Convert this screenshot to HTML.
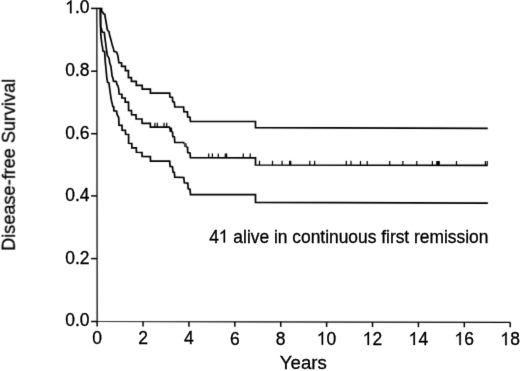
<!DOCTYPE html>
<html><head><meta charset="utf-8"><style>
html,body{margin:0;padding:0;background:#fff;}
body{width:520px;height:371px;overflow:hidden;}
svg{display:block;}
text{font-family:"Liberation Sans",sans-serif;fill:#000;}
</style></head><body>
<svg width="520" height="371" viewBox="0 0 520 371">
<defs><filter id="t" filterUnits="userSpaceOnUse" x="0" y="0" width="520" height="371"><feConvolveMatrix order="3" kernelMatrix="0 1 0 1 12 1 0 1 0" edgeMode="none" preserveAlpha="false"/></filter><filter id="b" filterUnits="userSpaceOnUse" x="0" y="0" width="520" height="371"><feConvolveMatrix order="3" kernelMatrix="0 1 0 1 6 1 0 1 0" edgeMode="none" preserveAlpha="false"/></filter></defs>
<rect width="520" height="371" fill="#fff"/>
<g filter="url(#b)">
<path d="M96.85,8.4 L97.15,321.5 L510.2,322.35" fill="none" stroke="#000" stroke-width="1.25" stroke-linejoin="miter"/>
<line x1="91.1" x2="97" y1="321.50" y2="321.50" stroke="#000" stroke-width="1.5"/>
<line x1="91.1" x2="97" y1="258.60" y2="258.60" stroke="#000" stroke-width="1.5"/>
<line x1="91.1" x2="97" y1="195.90" y2="195.90" stroke="#000" stroke-width="1.5"/>
<line x1="91.1" x2="97" y1="133.70" y2="133.70" stroke="#000" stroke-width="1.5"/>
<line x1="91.1" x2="97" y1="71.20" y2="71.20" stroke="#000" stroke-width="1.5"/>
<line x1="91.1" x2="97" y1="8.40" y2="8.40" stroke="#000" stroke-width="1.5"/>
<line x1="97.15" x2="97.15" y1="321.50" y2="326.50" stroke="#000" stroke-width="1.5"/>
<line x1="143.04" x2="143.04" y1="321.59" y2="326.59" stroke="#000" stroke-width="1.5"/>
<line x1="188.94" x2="188.94" y1="321.69" y2="326.69" stroke="#000" stroke-width="1.5"/>
<line x1="234.83" x2="234.83" y1="321.78" y2="326.78" stroke="#000" stroke-width="1.5"/>
<line x1="280.73" x2="280.73" y1="321.88" y2="326.88" stroke="#000" stroke-width="1.5"/>
<line x1="326.62" x2="326.62" y1="321.97" y2="326.97" stroke="#000" stroke-width="1.5"/>
<line x1="372.52" x2="372.52" y1="322.07" y2="327.07" stroke="#000" stroke-width="1.5"/>
<line x1="418.41" x2="418.41" y1="322.16" y2="327.16" stroke="#000" stroke-width="1.5"/>
<line x1="464.31" x2="464.31" y1="322.26" y2="327.26" stroke="#000" stroke-width="1.5"/>
<line x1="510.20" x2="510.20" y1="322.35" y2="327.35" stroke="#000" stroke-width="1.5"/>
<line x1="97" x2="102.3" y1="8.4" y2="8.4" stroke="#000" stroke-width="1.5"/>
<polyline points="101.6,8.4 101.7,11.5 103,12.5 103.4,13.8 104.8,14.1 105.1,16.5 106.5,24.5 107.3,29.6 108.4,31.3 109.1,32 109.6,35 111,40 112.4,45.6 113.4,48.4 114,51.4 116.6,52.2 117.9,55.7 118.9,62.7 121.6,63 121.6,66.4 125.4,66.4 125.4,70.6 128.4,70.6 128.4,77.6 131.4,77.6 131.4,81.4 136.3,81.4 136.3,85.3 142.2,85.3 142.2,89.2 150.4,89.2 150.4,93.1 169.7,93.1 169.9,97 172.4,97.2 172.7,101.6 174.3,102.2 174.8,106.8 183.6,107 183.9,111.6 187.4,111.8 187.7,116.9 190,117.2 190.4,121.3 255.5,121.5 255.5,127.7 487.8,128.3" fill="none" stroke="#000" stroke-width="1.7" stroke-linejoin="miter"/>
<polyline points="100.4,8.4 100.6,26 100.8,27.5 101.5,28.8 102.2,32 104.3,32.5 105,38.6 105.7,43.5 106.4,49.1 106.8,52 107.4,55.7 108.4,57.1 109.1,58.5 109.8,63.4 110.9,66.2 111.6,71.8 112.1,76.2 112.8,77.6 113.5,81.2 116.3,81.6 117,84.6 118,86 118.7,88.8 119.1,94 121.9,94.2 121.9,98 125.2,98 125.2,102.2 128.5,102.2 128.6,110.5 131.5,110.6 131.6,114.7 136,114.8 136.1,118.9 142,119 142.1,123.3 150.3,123.3 150.4,127.1 169.4,127.1 170.7,129.8 172,131.9 172.6,132.2 172.8,136.5 174.4,136.9 174.8,142.4 183.6,142.5 185.3,145 186.9,147.3 187.6,147.5 187.7,152.6 190,152.9 190.4,157.6 255.5,157.8 255.5,165.0 487.6,165.4" fill="none" stroke="#000" stroke-width="1.7" stroke-linejoin="miter"/>
<polyline points="100.4,8.4 100.6,26 100.8,34.4 101.2,38.6 101.9,44.2 102.6,47.7 102.9,51 104.6,51.6 104.9,56.4 105.3,62 106,69 106.8,77.6 107.5,82.2 108.9,82.9 109.6,88.1 110.3,93 111,98.1 111.7,101.6 112.4,104.4 112.8,106.6 113.8,106.9 113.8,110.8 116.6,111.1 117,114.2 118,116.3 118.7,117.5 119,125.2 122,125.4 122.1,130.1 125.4,130.3 125.6,134.3 128.6,134.5 128.6,143.3 131.8,143.5 131.9,147.8 136.3,147.9 136.4,152.3 142,152.5 142.1,156.5 150.4,156.7 150.5,161.1 169.7,161.1 170.1,166.4 172.5,166.7 173,172 174.3,172.3 174.8,177.2 183.8,177.5 184.3,182.8 187.8,183.1 188.2,188.8 190,189.2 190.5,194.6 255.5,194.6 255.5,202.4 487.9,203.1" fill="none" stroke="#000" stroke-width="1.7" stroke-linejoin="miter"/>
<rect x="169.4" y="127.6" width="2.7" height="4.3" fill="#000"/>
<rect x="184" y="143.2" width="2.7" height="3.8" fill="#444"/>
<rect x="436.2" y="161" width="3.6" height="4" fill="#000"/>
<line x1="154.9" x2="154.9" y1="122.80" y2="127.10" stroke="#000" stroke-width="1.25"/>
<line x1="157.3" x2="157.3" y1="122.80" y2="127.10" stroke="#000" stroke-width="1.25"/>
<line x1="164.0" x2="164.0" y1="122.80" y2="127.10" stroke="#000" stroke-width="1.25"/>
<line x1="166.7" x2="166.7" y1="122.80" y2="127.10" stroke="#000" stroke-width="1.25"/>
<line x1="208.7" x2="208.7" y1="153.40" y2="157.70" stroke="#000" stroke-width="1.25"/>
<line x1="212.4" x2="212.4" y1="153.40" y2="157.70" stroke="#000" stroke-width="1.25"/>
<line x1="218.3" x2="218.3" y1="153.40" y2="157.70" stroke="#000" stroke-width="1.25"/>
<line x1="225.3" x2="225.3" y1="153.40" y2="157.70" stroke="#000" stroke-width="1.25"/>
<line x1="226.6" x2="226.6" y1="153.40" y2="157.70" stroke="#000" stroke-width="1.25"/>
<line x1="243.3" x2="243.3" y1="153.40" y2="157.70" stroke="#000" stroke-width="1.25"/>
<line x1="250.2" x2="250.2" y1="153.40" y2="157.70" stroke="#000" stroke-width="1.25"/>
<line x1="259.5" x2="259.5" y1="160.71" y2="165.01" stroke="#000" stroke-width="1.25"/>
<line x1="272.5" x2="272.5" y1="160.73" y2="165.03" stroke="#000" stroke-width="1.25"/>
<line x1="282.1" x2="282.1" y1="160.75" y2="165.05" stroke="#000" stroke-width="1.25"/>
<line x1="289.6" x2="289.6" y1="160.76" y2="165.06" stroke="#000" stroke-width="1.25"/>
<line x1="290.7" x2="290.7" y1="160.76" y2="165.06" stroke="#000" stroke-width="1.25"/>
<line x1="309.8" x2="309.8" y1="160.79" y2="165.09" stroke="#000" stroke-width="1.25"/>
<line x1="314.6" x2="314.6" y1="160.80" y2="165.10" stroke="#000" stroke-width="1.25"/>
<line x1="346.3" x2="346.3" y1="160.86" y2="165.16" stroke="#000" stroke-width="1.25"/>
<line x1="351" x2="351" y1="160.86" y2="165.16" stroke="#000" stroke-width="1.25"/>
<line x1="360.5" x2="360.5" y1="160.88" y2="165.18" stroke="#000" stroke-width="1.25"/>
<line x1="367.2" x2="367.2" y1="160.89" y2="165.19" stroke="#000" stroke-width="1.25"/>
<line x1="389.7" x2="389.7" y1="160.93" y2="165.23" stroke="#000" stroke-width="1.25"/>
<line x1="402.9" x2="402.9" y1="160.95" y2="165.25" stroke="#000" stroke-width="1.25"/>
<line x1="416.8" x2="416.8" y1="160.98" y2="165.28" stroke="#000" stroke-width="1.25"/>
<line x1="432.4" x2="432.4" y1="161.00" y2="165.31" stroke="#000" stroke-width="1.25"/>
<line x1="456.5" x2="456.5" y1="161.05" y2="165.35" stroke="#000" stroke-width="1.25"/>
<line x1="485.4" x2="485.4" y1="161.10" y2="165.40" stroke="#000" stroke-width="1.25"/>
<line x1="487.2" x2="487.2" y1="161.10" y2="165.40" stroke="#000" stroke-width="1.25"/>
</g>
<g filter="url(#t)" stroke="#000" stroke-width="0.3">
<text transform="translate(89.60,326.40) scale(1,1.08)" text-anchor="end" style="font-size:17.5px">0.0</text>
<text transform="translate(89.60,263.50) scale(1,1.08)" text-anchor="end" style="font-size:17.5px">0.2</text>
<text transform="translate(89.60,200.80) scale(1,1.08)" text-anchor="end" style="font-size:17.5px">0.4</text>
<text transform="translate(89.60,138.60) scale(1,1.08)" text-anchor="end" style="font-size:17.5px">0.6</text>
<text transform="translate(89.60,76.10) scale(1,1.08)" text-anchor="end" style="font-size:17.5px">0.8</text>
<text transform="translate(89.60,13.30) scale(1,1.08)" text-anchor="end" style="font-size:17.5px"> .0</text><path transform="translate(89.60,13.30) scale(1,1.08) translate(-24.327,0) scale(0.008545,-0.008545)" d="M562,0 L728,0 L728,1409 L615,1409 L565,1330 L465,1240 L335,1160 L205,1090 L205,920 L330,985 L450,1060 L555,1135 Z" vector-effect="non-scaling-stroke"/>
<text transform="translate(97.15,344.20) scale(1,1.08)" text-anchor="middle" style="font-size:17.5px">0</text>
<text transform="translate(143.04,344.32) scale(1,1.08)" text-anchor="middle" style="font-size:17.5px">2</text>
<text transform="translate(188.94,344.43) scale(1,1.08)" text-anchor="middle" style="font-size:17.5px">4</text>
<text transform="translate(234.83,344.54) scale(1,1.08)" text-anchor="middle" style="font-size:17.5px">6</text>
<text transform="translate(280.73,344.66) scale(1,1.08)" text-anchor="middle" style="font-size:17.5px">8</text>
<text transform="translate(326.62,344.77) scale(1,1.08)" text-anchor="middle" style="font-size:17.5px"> 0</text><path transform="translate(326.62,344.77) scale(1,1.08) translate(-9.733,0) scale(0.008545,-0.008545)" d="M562,0 L728,0 L728,1409 L615,1409 L565,1330 L465,1240 L335,1160 L205,1090 L205,920 L330,985 L450,1060 L555,1135 Z" vector-effect="non-scaling-stroke"/>
<text transform="translate(372.52,344.89) scale(1,1.08)" text-anchor="middle" style="font-size:17.5px"> 2</text><path transform="translate(372.52,344.89) scale(1,1.08) translate(-9.733,0) scale(0.008545,-0.008545)" d="M562,0 L728,0 L728,1409 L615,1409 L565,1330 L465,1240 L335,1160 L205,1090 L205,920 L330,985 L450,1060 L555,1135 Z" vector-effect="non-scaling-stroke"/>
<text transform="translate(418.41,345.00) scale(1,1.08)" text-anchor="middle" style="font-size:17.5px"> 4</text><path transform="translate(418.41,345.00) scale(1,1.08) translate(-9.733,0) scale(0.008545,-0.008545)" d="M562,0 L728,0 L728,1409 L615,1409 L565,1330 L465,1240 L335,1160 L205,1090 L205,920 L330,985 L450,1060 L555,1135 Z" vector-effect="non-scaling-stroke"/>
<text transform="translate(464.31,345.12) scale(1,1.08)" text-anchor="middle" style="font-size:17.5px"> 6</text><path transform="translate(464.31,345.12) scale(1,1.08) translate(-9.733,0) scale(0.008545,-0.008545)" d="M562,0 L728,0 L728,1409 L615,1409 L565,1330 L465,1240 L335,1160 L205,1090 L205,920 L330,985 L450,1060 L555,1135 Z" vector-effect="non-scaling-stroke"/>
<text transform="translate(510.20,345.23) scale(1,1.08)" text-anchor="middle" style="font-size:17.5px"> 8</text><path transform="translate(510.20,345.23) scale(1,1.08) translate(-9.733,0) scale(0.008545,-0.008545)" d="M562,0 L728,0 L728,1409 L615,1409 L565,1330 L465,1240 L335,1160 L205,1090 L205,920 L330,985 L450,1060 L555,1135 Z" vector-effect="non-scaling-stroke"/>
<text transform="translate(209.20,242.60) scale(1,1.07)" style="font-size:17.4px">4  alive in continuous first remission</text><path transform="translate(209.20,242.60) scale(1,1.07) translate(9.677,0) scale(0.008496,-0.008496)" d="M562,0 L728,0 L728,1409 L615,1409 L565,1330 L465,1240 L335,1160 L205,1090 L205,920 L330,985 L450,1060 L555,1135 Z" vector-effect="non-scaling-stroke"/>
<text transform="translate(303.30,369.40)" text-anchor="middle" style="font-size:18.6px">Years</text>
<text transform="translate(14.80,164.80) rotate(-90)" text-anchor="middle" style="font-size:18.1px">Disease-free Survival</text>
</g>
</svg>
</body></html>
